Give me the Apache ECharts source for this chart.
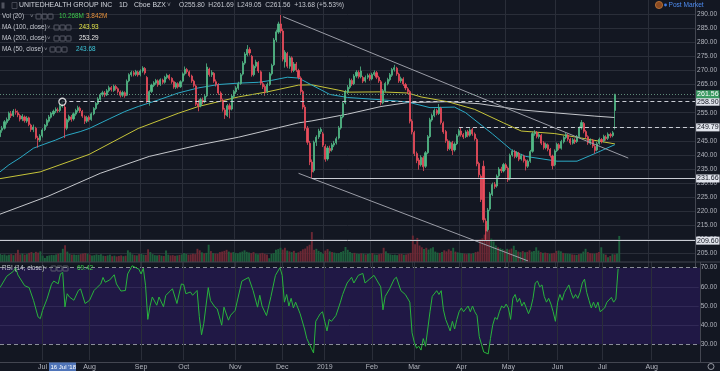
<!DOCTYPE html>
<html><head><meta charset="utf-8">
<script src="https://cdn.jsdelivr.net/npm/echarts/dist/echarts.min.js"></script>
<style>html,body{margin:0;padding:0;background:#131722;overflow:hidden}#c{width:720px;height:371px}</style>
</head><body><div id="c"></div>
<script>
// ---------- DATA ----------
const FIRST_DAY = '2018-06-05', LAST_DAY = '2019-08-30';
const HOLIDAYS = ['2018-07-04','2018-09-03','2018-11-22','2018-12-05','2018-12-25','2019-01-01','2019-01-21','2019-02-18','2019-04-19','2019-05-27','2019-07-04'];
const MONTH_NAMES = ['2019','Feb','Mar','Apr','May','Jun','Jul','Aug','Sep','Oct','Nov','Dec'];
// daily [open, close, low, high]
const ohlc = [
[246.5,248.8,245.6,249.4],[248.8,249.5,247.9,250.3],[249.5,251.8,249.0,252.4],[251.5,252.6,250.8,253.3],[252.5,254.8,252.0,255.4],
[254.6,253.9,253.1,255.6],[254.0,255.6,253.5,256.3],[255.5,255.2,254.3,256.4],[255.0,254.2,253.4,255.8],[254.0,252.7,251.9,254.6],
[252.8,253.8,252.0,254.5],[253.5,252.2,251.5,254.0],[252.0,253.1,251.4,253.8],[253.2,250.8,250.2,253.6],[250.6,249.0,248.2,251.1],
[249.0,249.9,248.1,250.8],[249.5,246.2,245.6,250.0],[246.0,245.3,242.6,246.8],[245.2,246.8,244.6,247.4],
[246.8,248.9,246.2,249.5],[249.0,250.6,248.5,251.0],[250.5,252.3,250.0,252.9],[252.0,253.5,251.5,254.2],[253.4,254.8,252.9,255.3],
[254.5,255.5,253.8,256.1],[255.6,256.2,254.9,256.9],[256.0,255.8,255.0,256.8],[255.8,257.3,255.2,258.0],[257.3,258.9,256.8,259.4],
[257.0,249.5,246.0,258.2],[249.5,252.5,248.8,253.0],[252.3,253.7,251.6,254.3],[253.5,252.6,251.8,254.2],[252.8,254.6,252.2,255.1],
[254.5,255.8,253.9,256.4],[255.8,256.8,255.1,257.5],[256.6,255.6,254.9,257.2],[255.5,253.8,253.2,256.0],[253.6,252.0,251.0,254.1],
[252.0,253.3,251.4,253.9],
[253.4,252.5,251.8,254.0],[252.6,254.6,252.1,255.1],[254.6,256.5,254.1,257.0],[256.5,258.3,256.0,258.8],[258.2,259.9,257.7,260.5],
[259.8,261.4,259.3,262.0],[261.4,262.1,260.7,262.8],[262.0,261.3,260.5,262.7],[261.3,262.8,260.9,263.4],[262.8,263.9,262.2,264.6],
[263.9,263.2,262.5,264.5],[262.9,264.4,262.4,265.0],[264.3,263.6,262.9,264.9],[263.5,262.5,261.8,264.0],[262.4,261.2,260.4,262.9],
[261.2,262.2,260.6,262.8],[262.1,261.0,260.3,262.6],[261.2,266.2,260.9,266.8],[266.3,268.5,265.8,269.0],[268.5,269.3,267.8,269.9],
[269.2,268.6,267.9,269.8],[268.6,269.6,268.0,270.2],[269.4,268.4,267.8,269.9],
[268.5,269.8,267.9,270.4],[269.8,270.9,269.2,271.5],[270.7,269.1,268.5,271.2],[267.5,259.2,258.4,268.0],[259.0,262.5,257.5,263.0],
[262.5,264.8,262.0,265.3],[264.7,265.6,264.1,266.2],[265.5,266.4,264.9,267.0],[266.3,264.9,264.2,266.8],[265.0,266.7,264.5,267.2],
[266.6,265.8,265.1,267.1],[265.8,267.6,265.3,268.1],[267.5,268.3,266.9,268.9],[268.2,267.1,266.5,268.7],[267.2,266.0,265.3,267.6],
[266.0,264.1,263.5,266.4],[264.0,265.4,263.4,265.9],[265.3,264.2,263.6,265.8],[264.2,266.0,263.8,266.5],
[266.2,268.8,265.8,269.3],[268.8,270.4,268.2,271.4],[270.3,269.6,268.9,270.9],[269.5,268.2,267.6,270.0],[268.0,266.3,265.6,268.5],
[266.2,264.7,264.0,266.7],[264.5,258.0,257.4,265.0],[258.2,257.3,255.5,259.6],[257.5,259.7,256.9,260.3],[259.5,258.8,258.0,260.4],
[259.0,260.8,258.4,261.5],[261.0,271.2,260.5,272.5],[270.5,268.5,267.8,271.0],[268.5,269.3,267.7,270.1],[269.0,266.2,265.6,269.4],
[266.0,265.1,264.3,266.8],[265.0,262.0,261.3,265.5],[262.0,259.8,259.0,262.6],[259.5,256.2,255.4,260.0],[256.0,254.2,252.8,256.7],
[254.0,257.5,253.5,258.1],[257.5,256.2,253.0,258.3],[256.3,260.9,255.8,261.4],
[260.8,262.5,260.1,263.1],[262.4,263.8,261.7,264.4],[263.7,265.3,263.1,266.0],[265.4,268.5,264.9,269.1],[268.7,272.6,268.2,273.3],
[272.6,275.8,272.0,276.5],[275.6,277.5,275.0,279.0],[277.4,276.2,275.3,278.2],[275.0,268.5,267.8,275.5],[268.5,271.5,267.9,272.1],
[271.5,273.0,270.8,273.8],[272.8,269.8,269.1,273.3],[269.5,265.5,264.8,270.0],[265.3,264.2,263.4,266.0],[264.3,262.5,261.0,265.0],
[262.6,265.0,262.0,265.7],[265.0,268.8,264.5,269.4],[268.8,271.8,268.2,272.4],[272.0,280.8,271.6,281.5],[280.8,283.7,280.1,284.5],
[283.6,286.5,283.0,287.3],
[286.5,284.0,283.2,289.7],[284.0,274.0,273.2,284.8],[273.0,276.5,271.0,277.2],[276.0,271.5,270.8,276.6],[271.5,274.5,270.6,275.2],
[274.5,270.0,269.2,275.0],[270.0,272.3,269.4,273.0],[272.3,270.2,269.5,273.0],[270.0,267.5,266.8,270.6],[267.3,262.5,261.7,267.9],
[262.5,257.0,256.2,263.1],[257.0,249.5,248.6,257.8],[249.5,244.5,243.6,250.3],[244.2,237.5,236.4,245.0],[237.5,234.0,231.66,238.4],
[234.5,244.5,233.8,245.1],[244.5,246.3,243.2,247.0],[246.4,248.5,245.7,249.3],[248.3,249.1,247.4,249.8],
[247.5,243.5,242.8,248.2],[243.0,238.5,237.6,243.8],[238.6,242.5,238.0,243.2],[242.3,241.5,240.6,243.3],[241.8,243.6,241.2,244.3],
[243.5,244.2,242.8,245.0],[244.3,245.8,243.7,246.5],[246.0,249.6,245.5,250.3],[249.6,253.5,249.0,254.2],[253.5,258.3,253.0,259.0],
[258.5,262.4,258.0,263.1],[262.3,264.0,261.6,264.8],[264.0,266.5,263.4,267.2],[266.4,265.2,264.5,267.1],[265.3,268.0,264.8,268.7],
[268.0,269.4,267.4,270.1],[269.3,267.8,267.1,270.0],[267.8,269.8,267.2,271.4],[267.5,266.2,265.5,268.1],[266.3,267.5,265.7,268.2],
[267.6,268.2,266.9,268.9],
[268.3,267.0,266.3,268.9],[267.0,268.6,266.5,269.2],[268.6,269.3,268.0,270.0],[269.2,267.6,266.9,269.8],[267.5,266.3,265.6,268.1],
[266.0,258.5,257.6,266.6],[258.5,262.8,258.0,263.4],[262.8,265.4,262.2,266.0],[265.3,266.8,264.7,267.4],[266.7,268.5,266.1,269.1],
[268.3,270.3,267.7,270.9],[270.3,271.0,269.6,272.0],[270.8,268.8,268.1,271.3],[268.7,266.3,265.6,269.2],[266.3,267.1,265.6,267.8],
[267.0,265.2,264.5,267.6],[265.0,263.8,263.0,265.6],[263.5,262.5,261.6,264.1],[262.5,252.0,251.2,263.0],
[252.0,248.2,247.3,252.7],[248.0,240.5,239.6,248.6],[240.5,238.0,237.1,241.2],[238.2,236.5,234.8,239.0],[236.5,239.2,235.9,239.9],
[239.0,235.8,234.3,239.6],[236.0,240.8,235.4,241.4],[240.8,246.5,240.3,247.1],[246.5,252.5,246.0,253.2],[252.4,254.0,251.8,254.7],
[254.0,255.8,253.4,256.5],[255.8,254.8,254.1,256.4],[254.7,256.7,254.2,258.1],[256.6,251.5,250.8,257.1],[251.3,248.2,247.5,251.9],
[248.3,245.1,244.3,248.9],[245.0,242.2,241.4,245.6],[242.3,244.5,241.7,245.1],[244.4,241.6,240.0,245.0],[241.8,243.9,241.2,244.5],
[244.0,246.8,243.5,247.4],
[247.0,248.6,246.5,249.3],[248.5,247.2,246.5,249.79],[247.2,246.4,245.7,247.8],[246.5,248.2,246.0,248.8],[248.3,247.0,246.3,248.9],
[247.0,248.9,246.5,249.5],[249.0,247.5,246.8,249.6],[247.4,245.8,245.1,248.0],[245.5,236.9,236.0,246.1],[237.0,233.0,232.0,237.6],
[232.5,224.2,223.3,233.1],[236.0,217.0,216.0,238.0],[216.5,213.0,209.6,217.5],[213.5,220.5,212.8,221.2],[220.8,226.2,220.2,226.9],
[226.0,229.5,225.4,230.2],[229.5,228.8,228.0,230.4],[229.0,232.5,228.4,233.1],[232.6,235.0,232.0,235.7],[235.0,234.4,233.6,235.8],
[234.3,236.6,233.8,237.2],
[236.5,235.4,234.7,237.1],[235.3,231.2,230.4,235.9],[231.5,239.9,231.0,240.5],[240.0,241.3,239.4,242.0],[241.2,239.5,238.8,241.8],
[239.5,240.8,238.9,241.4],[240.6,238.5,237.8,241.1],[238.6,239.8,238.0,240.4],[239.6,238.0,237.3,240.1],[238.0,236.0,234.5,238.5],
[236.0,237.8,235.4,238.4],[237.8,241.2,237.2,241.8],[241.3,247.6,240.8,248.3],[247.5,248.1,246.8,248.8],[248.0,246.6,245.9,248.5],
[246.5,247.2,245.8,247.9],[247.0,244.2,243.5,247.5],[244.3,242.6,241.9,244.9],[242.6,243.8,242.0,244.4],[243.6,242.0,241.3,244.1],
[242.0,239.8,239.1,242.5],[239.6,236.2,234.9,240.1],
[236.5,241.4,236.0,242.0],[241.5,243.8,241.0,244.4],[243.6,242.4,241.7,244.2],[242.4,244.8,241.9,245.4],[244.7,246.2,244.1,246.8],
[246.2,247.3,245.6,247.9],[247.1,245.6,244.9,247.6],[245.6,244.3,243.6,246.1],[244.2,245.4,243.7,246.0],[245.3,244.6,243.9,245.9],
[244.8,246.5,244.3,247.1],[246.5,249.6,246.0,250.2],[249.6,251.5,249.0,252.4],[251.2,248.4,247.7,251.7],[248.3,246.6,245.9,248.9],
[246.5,244.3,243.6,247.0],[244.2,245.3,243.6,245.9],[245.2,243.2,242.5,245.7],[243.0,241.6,240.5,243.6],[241.8,244.0,241.3,244.6],
[244.1,245.6,243.6,246.2],[245.5,244.8,244.1,246.0],[245.0,246.6,244.5,247.2],[246.4,245.8,245.1,247.0],[245.9,247.4,245.3,248.0],
[247.3,246.8,246.1,247.9],[246.9,247.88,246.3,248.5],[255.8,261.56,249.05,261.69]
];
// daily volume, millions
const volume = [
3.2,2.8,3.0,2.6,2.9,3.1,2.7,3.4,4.8,3.0,3.3,2.9,3.1,3.6,3.9,3.5,4.0,3.7,4.2,
2.5,1.6,2.4,2.6,2.8,2.7,3.0,3.3,3.6,5.2,6.6,4.1,3.2,2.9,3.0,2.8,2.9,3.1,3.3,3.5,3.2,
2.9,2.6,2.7,3.0,2.8,3.1,2.5,2.4,2.6,2.9,2.3,2.5,2.2,2.4,2.6,2.3,2.5,4.6,3.8,3.0,2.7,2.6,3.1,
3.2,2.9,2.8,5.0,3.9,3.1,2.7,2.6,2.8,2.5,2.4,4.5,2.9,2.6,2.7,2.5,2.6,2.8,3.0,
3.5,3.2,2.9,3.0,3.3,3.1,5.2,4.6,3.8,3.4,3.6,6.8,4.3,3.5,3.3,3.2,3.9,4.1,4.4,4.8,4.1,3.7,3.9,
3.6,3.4,3.8,4.1,4.6,4.0,3.7,3.5,3.9,3.3,3.1,3.4,3.6,3.2,3.0,1.5,3.2,3.5,4.8,5.1,5.6,
4.9,5.6,4.5,4.2,3.9,4.4,3.6,3.8,4.3,5.0,5.3,6.2,6.8,11.8,4.8,5.2,4.4,3.9,3.2,
4.5,5.1,4.2,3.9,3.7,3.4,3.5,3.9,4.3,5.9,4.8,3.9,3.5,3.6,3.3,3.2,3.4,3.3,3.0,3.2,3.4,
3.5,3.0,2.9,3.1,3.3,5.6,4.2,3.4,3.0,2.8,2.9,2.7,3.1,3.2,2.9,3.0,3.3,3.6,10.4,
7.0,9.5,6.5,5.8,5.1,5.6,4.9,5.4,5.8,4.1,3.7,3.6,3.9,4.6,4.2,5.0,4.4,5.6,4.1,3.8,3.6,
3.5,3.3,3.1,3.4,3.2,3.5,3.9,4.1,8.8,9.3,10.8,13.8,12.5,9.2,8.1,6.5,5.8,5.4,5.1,4.6,5.2,
4.9,5.3,6.4,4.7,4.1,3.9,4.3,3.8,4.0,4.6,4.1,4.3,5.8,4.5,3.9,3.6,3.7,3.5,3.2,3.4,3.6,4.4,
4.5,4.2,3.6,3.4,3.3,3.2,3.0,2.9,2.8,3.1,3.3,4.1,5.2,3.9,3.5,3.4,3.3,3.6,3.9,5.8,
3.2,2.9,1.9,2.4,3.1,3.0,3.3,10.268
];
// moving averages: [dayIndex, value]
const ma50 = [[0,234.0],[4,236.5],[9,239.0],[15,242.4],[19,243.6],[25,245.3],[30,247.0],[36,248.3],[40,249.4],[49,252.8],[56,255.4],[62,257.2],[71,259.5],[80,262.0],[89,263.8],[98,265.0],[107,265.5],[116,265.8],[122,266.5],[129,267.6],[134,267.3],[140,264.8],[148,261.5],[156,260.4],[171,259.6],[183,258.8],[193,256.8],[204,257.0],[209,255.0],[221,247.5],[230,241.5],[236,239.5],[250,237.8],[259,237.8],[267,240.5],[276,243.68]];
const ma100 = [[0,231.6],[18,234.0],[40,240.2],[62,249.4],[80,254.8],[89,257.2],[107,260.6],[120,262.4],[134,264.8],[140,264.9],[152,263.0],[156,262.3],[171,262.4],[183,262.0],[189,260.6],[201,258.9],[213,256.2],[226,251.4],[234,248.5],[249,247.6],[261,246.0],[276,243.93]];
const ma200 = [[0,219.0],[22,225.5],[45,233.5],[67,239.5],[89,243.5],[107,246.3],[125,249.7],[134,251.4],[140,252.1],[156,254.5],[171,257.2],[183,258.6],[201,258.9],[215,258.2],[234,256.0],[250,254.9],[267,253.8],[276,253.29]];
// RSI(14): [dayIndex, value]
const rsi = [[0,59.6],[3,65.5],[6,68.1],[7,70],[8,66.2],[11,60.6],[13,59.6],[15,52.8],[17,44.3],[18,43.4],[19,47.7],[21,53.7],[23,61.3],[24,63],[26,61.6],[27,66.8],[28,67.5],[29,49.5],[30,56.4],[31,54.7],[33,53],[35,58.1],[36,58.9],[38,51.3],[40,53],[42,58.1],[43,59.3],[45,61.5],[46,64.9],[47,62.4],[49,63.6],[51,66.3],[52,61.5],[54,57.8],[56,58.1],[57,66.7],[59,71],[60,70.4],[62,69.2],[63,66.7],[64,69.7],[65,60.6],[66,43],[67,50],[68,54.7],[70,50.4],[71,54.7],[73,49.6],[74,55.5],[76,57.8],[77,59],[79,51.3],[81,61.5],[82,61.2],[83,56.4],[85,57.3],[86,55.6],[88,58.1],[89,44.4],[90,35],[91,41],[93,59.6],[94,52.8],[96,49.4],[97,48.5],[98,44.3],[99,40],[100,49.4],[102,42.6],[103,45.2],[105,47.7],[108,63],[111,64.9],[113,58.1],[115,49.4],[116,55.6],
[117,50],[119,45],[121,55],[123,66],[125,70],[126,66],[127,52],[128,56],[129,50],[130,54],[131,49],[132,52],[134,46],[136,38],[137,33],[139,28],[140,25.5],[141,42],[142,44],[143,46],[144,47],[145,42],[146,37],[147,43],[148,42],[150,45],[152,52],[153,56],[155,62],[157,65],[158,62],[160,66],[162,67],[163,62],[165,64],[167,66],[169,62],[170,60],[171,48],[172,55],[174,59],[176,64],[177,65],[179,58],[181,56],[183,52],[184,36],[185,31],[186,28],[187,29],[188,27],[189,33],[190,29],[191,38],[192,47],[193,55],[195,58],[196,56],[197,58],[198,48],[199,43],[200,40],[201,37],[202,42],[203,38],[204,43],[205,47],[206,49],[207,47],[209,50],[210,47],[211,50],[212,47],[213,45],[214,34],[215,30],[216,26],[217,25.5],[218,25],[219,33],[220,40],[221,44],[222,43],[223,47],[224,50],[225,49],[226,51],[227,49],[228,43],[229,54],[230,56],[231,52],[232,54],[233,50],[234,52],[235,49],[236,46],[237,49],[238,54],[239,62],[240,63],[241,60],[242,61],[243,55],[244,52],[245,54],[246,51],[247,47],[248,42],[249,52],[250,56],[251,53],[252,57],[253,59],[254,61],[255,57],[256,54],[257,56],[258,54],[259,57],[260,62],[261,64],[262,57],[263,53],[264,49],[265,52],[266,49],[267,52],[268,47],[270,49],[271,52],[273,54.5],[274,52],[275,53.6],[276,69.42]];
// drawings
const levelDash1 = {from: 28, value: 258.90};
const levelDash2 = {from: 206, value: 249.79};
const levelSolid1 = {from: 140, value: 231.66};
const levelSolid2 = {from: 0, value: 209.60};
const lastPrice = 261.56;
const trendUpper = [[127, 289.1], [282, 238.9]];
const trendLower = [[134, 233.5], [237, 202.4]];
const cursorPoint = [28, 258.90];
const PRICE_TICKS = {min: 200, max: 295, step: 5};
const RSI_TICKS = {min: 20, max: 80, step: 10};
const RSI_PANE = {low: 21.8, high: 73.1};

// ---------- BUILD ----------
const dates = [];
for (let d = new Date(FIRST_DAY + 'T00:00:00Z'); d <= new Date(LAST_DAY + 'T00:00:00Z'); d.setUTCDate(d.getUTCDate() + 1)) {
  const wd = d.getUTCDay(); const s = d.toISOString().slice(0, 10);
  if (wd === 0 || wd === 6 || HOLIDAYS.includes(s)) continue;
  dates.push(s);
}
const monthStart = dates.map((s, i) => i > 0 && s.slice(5, 7) !== dates[i - 1].slice(5, 7));
const monthIdx = monthStart.map((m, i) => m ? i : -1).filter(i => i >= 0);
const lastIdx = dates.length - 1;

const BG = '#131722', GRID = '#2a2e39', TXT = '#b2b5be';
const UP = '#53b987', DOWN = '#eb4d5c';
const FONT = 'Liberation Sans, Arial, sans-serif';
const T = 'rgba(0,0,0,0)';
const priceSplit = [];
for (let v = PRICE_TICKS.min; v <= PRICE_TICKS.max; v += PRICE_TICKS.step) priceSplit.push(v === PRICE_TICKS.min || v === PRICE_TICKS.max ? T : GRID);
const rsiSplit = [];
for (let v = RSI_TICKS.min; v <= RSI_TICKS.max; v += RSI_TICKS.step) rsiSplit.push(v === 40 || v === 50 || v === 60 ? GRID : T);

const volData = volume.map((v, i) => ({value: v, itemStyle: {color: ohlc[i][1] >= ohlc[i][0] ? '#1d5e3c' : '#6a2834'}}));

function level(l, dashed) {
  return [{coord: [l.from, l.value], lineStyle: {type: dashed, color: '#c9ccd4', width: 1},
    label: {show: true, position: 'end', distance: 1, formatter: l.value.toFixed(2), color: '#131722', backgroundColor: '#e0e3eb', padding: [1, 1, 0, 1], fontSize: 7, fontFamily: FONT}},
    {coord: [lastIdx, l.value]}];
}

const catAxisBase = {type: 'category', data: dates, boundaryGap: false, axisLine: {show: false}, axisTick: {show: false}};
const option = {
  backgroundColor: BG,
  animation: false,
  grid: [
    {left: 0, right: 20, top: -10.65, height: 278.35},
    {left: 0, right: 20, top: 212, height: 50},
    {left: 0, right: 20, top: 248.5, height: 117}
  ],
  xAxis: [
    Object.assign({}, catAxisBase, {gridIndex: 0, axisLabel: {show: false}, splitLine: {show: true, interval: i => monthStart[i], lineStyle: {color: GRID}}}),
    Object.assign({}, catAxisBase, {gridIndex: 1, axisLabel: {show: false}, splitLine: {show: false}}),
    Object.assign({}, catAxisBase, {gridIndex: 2, splitLine: {show: false},
      axisLabel: {show: true, interval: i => monthStart[i], margin: 0.5, color: TXT, fontSize: 7, fontFamily: FONT,
        formatter: (v) => MONTH_NAMES[parseInt(v.slice(5, 7), 10) - 1]}})
  ],
  yAxis: [
    {type: 'value', gridIndex: 0, position: 'right', min: PRICE_TICKS.min, max: PRICE_TICKS.max, interval: PRICE_TICKS.step,
      axisLine: {show: true, lineStyle: {color: '#434651'}}, axisTick: {show: false},
      axisLabel: {color: TXT, fontSize: 6.5, margin: 2, fontFamily: FONT, formatter: v => (v <= PRICE_TICKS.min || v >= PRICE_TICKS.max) ? '' : v.toFixed(2)},
      splitLine: {show: true, lineStyle: {color: priceSplit}}},
    {type: 'value', gridIndex: 1, min: 0, max: 19.7, show: false, splitLine: {show: false}},
    {type: 'value', gridIndex: 2, position: 'right', min: RSI_TICKS.min, max: RSI_TICKS.max, interval: RSI_TICKS.step,
      axisLine: {show: false}, axisTick: {show: false},
      axisLabel: {color: TXT, fontSize: 6.5, margin: 2, fontFamily: FONT, formatter: v => (v <= 20 || v >= 80) ? '' : v.toFixed(2)},
      splitLine: {show: true, lineStyle: {color: rsiSplit}}}
  ],
  series: [
    {type: 'bar', xAxisIndex: 1, yAxisIndex: 1, data: volData, barCategoryGap: '15%', z: 1},
    {type: 'line', xAxisIndex: 0, yAxisIndex: 0, data: ma200, showSymbol: false, symbol: 'none', lineStyle: {color: '#c5c7cc', width: 1}, z: 2},
    {type: 'line', xAxisIndex: 0, yAxisIndex: 0, data: ma100, showSymbol: false, symbol: 'none', lineStyle: {color: '#c6c43a', width: 1}, z: 2},
    {type: 'line', xAxisIndex: 0, yAxisIndex: 0, data: ma50, showSymbol: false, symbol: 'none', lineStyle: {color: '#2ba9c4', width: 1}, z: 2},
    {type: 'candlestick', xAxisIndex: 0, yAxisIndex: 0, data: ohlc, barWidth: 1.6, z: 3,
      itemStyle: {color: UP, color0: DOWN, borderColor: UP, borderColor0: DOWN, borderWidth: 0.8},
      markLine: {silent: true, symbol: 'none', data: [
        level(levelDash1, [4, 3]),
        level(levelDash2, [4, 3]),
        level(levelSolid1, 'solid'),
        level(levelSolid2, 'solid'),
        [{coord: [0, lastPrice], lineStyle: {type: [1, 2], color: '#5f8a78', width: 1},
          label: {show: true, position: 'end', distance: 1, formatter: lastPrice.toFixed(2), color: '#ffffff', backgroundColor: '#3a9a62', padding: [1, 1, 0, 1], fontSize: 7, fontFamily: FONT}},
         {coord: [lastIdx, lastPrice]}]
      ]}},
    {type: 'line', xAxisIndex: 0, yAxisIndex: 0, data: trendUpper, showSymbol: false, symbol: 'none', lineStyle: {color: '#9a9ca6', width: 1}, z: 4},
    {type: 'line', xAxisIndex: 0, yAxisIndex: 0, data: trendLower, showSymbol: false, symbol: 'none', lineStyle: {color: '#9a9ca6', width: 1}, z: 4},
    {type: 'scatter', xAxisIndex: 0, yAxisIndex: 0, data: [cursorPoint], symbol: 'circle', symbolSize: 7, z: 6,
      itemStyle: {color: BG, borderColor: '#ffffff', borderWidth: 1.3}},
    {type: 'line', xAxisIndex: 2, yAxisIndex: 2, data: rsi, showSymbol: false, symbol: 'none', lineStyle: {color: '#28b43c', width: 1}, z: 5,
      markArea: {silent: true, itemStyle: {color: 'rgba(70,28,160,0.28)'}, data: [[{yAxis: 30, x: 0}, {yAxis: 70, x: 700}]]},
      markLine: {silent: true, symbol: 'none', label: {show: false},
        data: [
          [{coord: [0, 70], lineStyle: {type: [4, 3], color: '#8b8e99', width: 1}}, {coord: [lastIdx, 70]}],
          [{coord: [0, 30], lineStyle: {type: [4, 3], color: '#8b8e99', width: 1}}, {coord: [lastIdx, 30]}]
        ].concat(monthIdx.map(i => [{coord: [i, RSI_PANE.low], lineStyle: {type: 'solid', color: GRID, width: 1}}, {coord: [i, RSI_PANE.high]}]))}}
  ],
  graphic: []
};

// ---------- legend / decorations ----------
const G = option.graphic;
const text = (x, y, t, fill, size, z) => G.push({type: 'text', x: x, y: y, z: z || 100,
  style: {text: t, fill: fill, font: (size || 7) + 'px ' + FONT, align: 'left', verticalAlign: 'middle'}});
const icons = (x, y) => { for (let k = 0; k < 3; k++) G.push({type: 'rect', z: 100, shape: {x: x + k * 6, y: y - 2.5, width: 5, height: 5, r: 0.6}, style: {fill: 'rgba(0,0,0,0)', stroke: '#6a6d78', lineWidth: 0.8}}); };
G.push({type: 'rect', z: 100, shape: {x: 1.5, y: 2.5, width: 3, height: 6}, style: {fill: '#50535e'}});
G.push({type: 'rect', z: 100, shape: {x: 12, y: 2.5, width: 5, height: 6}, style: {fill: 'rgba(0,0,0,0)', stroke: '#50535e', lineWidth: 0.8}});
text(19, 5.5, 'UNITEDHEALTH GROUP INC', '#d1d4dc', 6.9);
text(119, 5.5, '1D', '#d1d4dc', 6.9);
text(134, 5.5, 'Cboe BZX', '#d1d4dc', 6.9);
text(167, 5, '˅', '#9598a1', 6.5);
text(179, 5.5, 'O255.80  H261.69  L249.05  C261.56  +13.68 (+5.53%)', '#c4c7cf', 6.7);
text(2, 16.5, 'Vol (20)', '#c4c7cf', 6.4); text(30, 16, '˅', '#9598a1', 6); icons(36, 16.5);
text(59, 16.5, '10.268M', '#3cc84a', 6.4); text(86, 16.5, '3.842M', '#e8913a', 6.4);
text(2, 27.5, 'MA (100, close)', '#c4c7cf', 6.4); text(47, 27, '˅', '#9598a1', 6); icons(54, 27.5);
text(79, 27.5, '243.93', '#e8e84a', 6.4);
text(2, 38.5, 'MA (200, close)', '#c4c7cf', 6.4); text(47, 38, '˅', '#9598a1', 6); icons(54, 38.5);
text(79, 38.5, '253.29', '#e6e6e6', 6.4);
text(2, 49.5, 'MA (50, close)', '#c4c7cf', 6.4); text(44, 49, '˅', '#9598a1', 6); icons(50, 49.5);
text(76, 49.5, '243.68', '#3dc6d9', 6.4);
text(2, 268.5, 'RSI (14, close)', '#c4c7cf', 6.4); text(44, 268, '˅', '#9598a1', 6); icons(51, 268.5);
text(77, 268.5, '69.42', '#3cc84a', 6.4);
// post market badge
G.push({type: 'circle', z: 100, shape: {cx: 659, cy: 5, r: 3.6}, style: {fill: '#8a4a22', stroke: '#c47a3a', lineWidth: 0.8}});
G.push({type: 'circle', z: 100, shape: {cx: 665.5, cy: 5, r: 1.4}, style: {fill: '#3d7be8'}});
text(668.5, 5.2, 'Post Market', '#4e8cf0', 6.6);
// pane separators
G.push({type: 'line', z: 50, shape: {x1: 0, y1: 262, x2: 720, y2: 262}, style: {stroke: '#434651', lineWidth: 1}});
G.push({type: 'line', z: 50, shape: {x1: 0, y1: 362.5, x2: 720, y2: 362.5}, style: {stroke: '#434651', lineWidth: 1}});
G.push({type: 'line', z: 50, shape: {x1: 700.5, y1: 262, x2: 700.5, y2: 362}, style: {stroke: '#434651', lineWidth: 1}});
// crosshair date tag
G.push({type: 'rect', z: 101, shape: {x: 49, y: 362.5, width: 27, height: 8.5}, style: {fill: '#4f74b8'}});
text(50.5, 367, "16 Jul '18", '#ffffff', 6, 102);
// gear icon
G.push({type: 'circle', z: 100, shape: {cx: 711, cy: 366.5, r: 3}, style: {fill: 'rgba(0,0,0,0)', stroke: '#9598a1', lineWidth: 1}});

const chart = echarts.init(document.getElementById('c'), null, {renderer: 'canvas'});
chart.setOption(option);
</script></body></html>
